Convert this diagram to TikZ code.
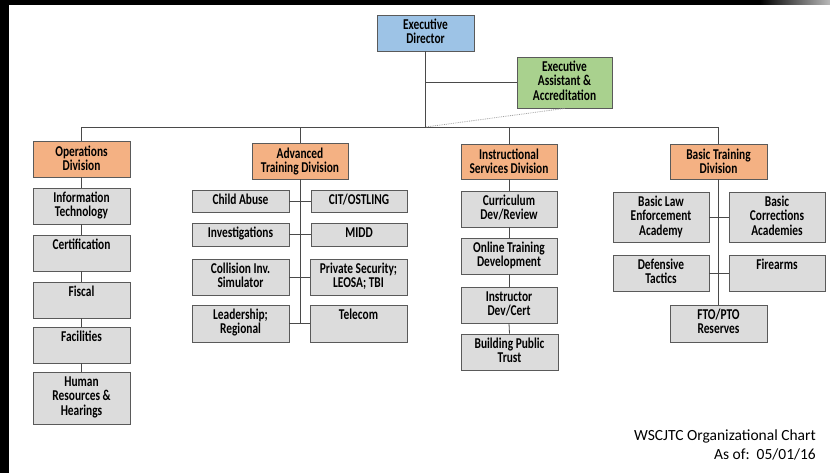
\documentclass[tikz,border=0pt]{standalone}
\usepackage{fontspec}
\setmainfont{Carlito}
\newfontfamily\boxfont[FakeStretch=0.76]{Carlito}
\usetikzlibrary{fit}
\definecolor{orgorange}{HTML}{F4B183}
\definecolor{orggrey}{HTML}{DCDCDC}
\definecolor{orgblue}{HTML}{9DC3E6}
\definecolor{orggreen}{HTML}{A9D18E}
\definecolor{orgborder}{HTML}{5A5A5A}
\definecolor{orgline}{HTML}{4A4A4A}
\tikzset{
  basebox/.style={draw=orgborder, line width=0.8pt, inner sep=0pt, rectangle},
  greybox/.style={basebox, fill=orggrey},
  orangebox/.style={basebox, fill=orgorange},
  bluebox/.style={basebox, fill=orgblue},
  greenbox/.style={basebox, fill=orggreen},
  greybox label/.style={inner xsep=0pt, inner ysep=3.5pt, align=center, text=black,
     font=\boxfont\bfseries\fontsize{15}{14.5}\selectfont},
  orangebox label/.style={greybox label, inner ysep=4.5pt, font=\boxfont\bfseries\fontsize{15}{14}\selectfont},
  bluebox label/.style={greybox label},
  greenbox label/.style={greybox label},
  conn/.style={draw=orgline, line width=0.8pt},
  dotconn/.style={draw=gray!75, line width=0.8pt, densely dotted},
  titletext/.style={font=\fontsize{15.5}{18}\selectfont, inner sep=0pt, text=black}
}
\newcommand\obox[7]{%
  \coordinate (#2-a) at (#3,#4);
  \coordinate (#2-b) at (#5,#6);
  \node[#1, fit=(#2-a)(#2-b)] (#2) {};
  \node[#1 label, anchor=north] (#2-t) at (#2.north) {\rule{0pt}{11pt}#7};}
\begin{document}
\begin{tikzpicture}[x=1pt,y=-1pt]
\useasboundingbox (0,0) rectangle (830,473);
\fill[white] (0,0) rectangle (830,473);
% frame strips
\fill[black] (0,0) rectangle (9,473);
\fill[black] (0,0) rectangle (760,5);
\shade[left color=black, right color=gray!55] (760,0) rectangle (830,5);

% top
\obox{bluebox}{ed}{377}{15}{474}{51}{Executive\\Director}
\obox{greenbox}{ea}{517}{57}{612}{108}{Executive\\Assistant \&\\Accreditation}

% division heads
\obox{orangebox}{ops}{33}{141}{130}{177}{Operations\\Division}
\obox{orangebox}{adv}{252}{143}{348}{179}{Advanced\\Training Division}
\obox{orangebox}{ins}{461}{144}{557}{179}{Instructional\\Services Division}
\obox{orangebox}{bas}{670}{144}{767}{179}{Basic Training\\Division}

% operations
\obox{greybox}{it}{33}{188}{130}{224}{Information\\Technology}
\obox{greybox}{cert}{33}{235}{130}{271}{Certification}
\obox{greybox}{fis}{33}{282}{130}{318}{Fiscal}
\obox{greybox}{fac}{33}{327}{130}{363}{Facilities}
\obox{greybox}{hr}{33}{372}{130}{424}{Human\\Resources \&\\Hearings}

% advanced training
\obox{greybox}{ca}{192}{190}{289}{212}{Child Abuse}
\obox{greybox}{cit}{311}{190}{407}{212}{CIT/OSTLING}
\obox{greybox}{inv}{192}{223}{289}{246}{Investigations}
\obox{greybox}{midd}{311}{223}{407}{246}{MIDD}
\obox{greybox}{col}{192}{259}{289}{295}{Collision Inv.\\Simulator}
\obox{greybox}{ps}{310}{259}{407}{295}{Private Security;\\LEOSA; TBI}
\obox{greybox}{lead}{192}{305}{289}{342}{Leadership;\\Regional}
\obox{greybox}{tel}{310}{305}{407}{342}{Telecom}

% instructional services
\obox{greybox}{cur}{461}{191}{557}{227}{Curriculum\\Dev/Review}
\obox{greybox}{otd}{461}{238}{557}{274}{Online Training\\Development}
\obox{greybox}{idc}{461}{287}{557}{323}{Instructor\\Dev/Cert}
\obox{greybox}{bpt}{461}{334}{558}{370}{Building Public\\Trust}

% basic training
\obox{greybox}{ble}{613}{192}{709}{242}{Basic Law\\Enforcement\\Academy}
\obox{greybox}{bca}{729}{192}{825}{242}{Basic\\Corrections\\Academies}
\obox{greybox}{def}{613}{255}{709}{291}{Defensive\\Tactics}
\obox{greybox}{fir}{729}{255}{825}{291}{Firearms}
\obox{greybox}{fto}{670}{305}{767}{342}{FTO/PTO\\Reserves}

% connectors
\coordinate (busL) at (81.5,127);
\coordinate (busR) at (718.5,127);
\path[conn] (busL) -- (busR);
\path[conn] (ed.south) -- (ed.south |- busL);
\path[conn] (ea.west) -- (ea.west -| ed.south);
\path[dotconn] (ea.south) -- (ed.south |- busL);
\path[conn] (ops.north) -- (ops.north |- busL);
\path[conn] (adv.north) -- (adv.north |- busL);
\path[conn] (ins.north) -- (ins.north |- busL);
\path[conn] (bas.north) -- (bas.north |- busL);

\path[conn] (ops.south) -- (it.north);
\path[conn] (it.south) -- (cert.north);
\path[conn] (cert.south) -- (fis.north);
\path[conn] (fis.south) -- (fac.north);
\path[conn] (fac.south) -- (hr.north);

\path[conn] (adv.south) -- (adv.south |- lead.east);
\path[conn] (ca.east) -- (cit.west);
\path[conn] (inv.east) -- (midd.west);
\path[conn] (col.east) -- (ps.west);
\path[conn] (lead.east) -- (tel.west);

\path[conn] (ins.south) -- (cur.north);
\path[conn] (cur.south) -- (otd.north);
\path[conn] (otd.south) -- (idc.north);
\path[conn] (idc.south) -- (bpt.north);

\path[conn] (bas.south) -- (fto.north);
\path[conn] (ble.east) -- (bca.west);
\path[conn] (def.east) -- (fir.west);

% title
\node[titletext, anchor=base east] (title) at (816,440) {WSCJTC Organizational Chart};
\node[titletext, anchor=base east] (asof) at (816,459) {As of:\ \ 05/01/16};
\end{tikzpicture}
\end{document}
